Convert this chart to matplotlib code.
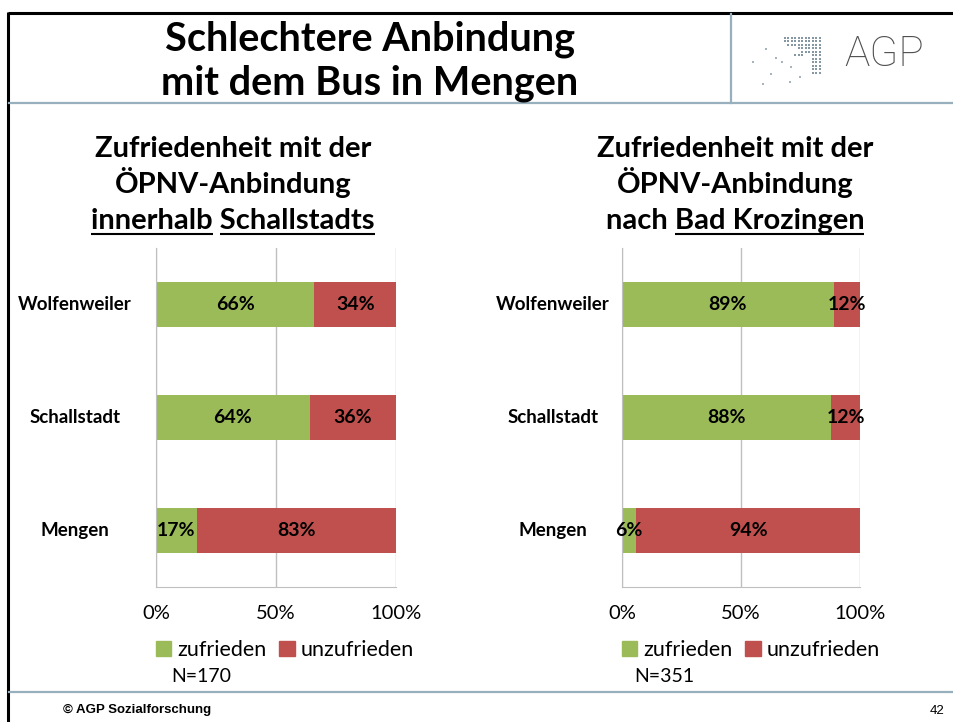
import matplotlib.pyplot as plt
from matplotlib import transforms
from matplotlib.patches import Patch

W, H = 954, 722

GREEN = '#9BBB59'
RED = '#C0504D'
GRID = '#BFBFBF'
RULE = '#98AFBE'

orte = ['Wolfenweiler', 'Schallstadt', 'Mengen']
innerhalb_zufrieden = [66, 64, 17]
innerhalb_unzufrieden = [34, 36, 83]
krozingen_zufrieden = [89, 88, 6]
krozingen_unzufrieden = [12, 12, 94]
x_ticks = [0, 50, 100]
x_tick_labels = ['0%', '50%', '100%']
legend_labels = ['zufrieden', 'unzufrieden']

plt.rcParams['font.family'] = ['Lato', 'DejaVu Sans']

fig = plt.figure(figsize=(W / 100, H / 100), dpi=100)
renderer = fig.canvas.get_renderer()

# full-page overlay in pixel units for the slide frame, titles and logo
page = fig.add_axes([0, 0, 1, 1])
page.set_xlim(0, W)
page.set_ylim(H, 0)
page.axis('off')

page.plot([8, W], [13, 13], color='black', lw=2.2, solid_capstyle='butt')
page.plot([8, 8], [12, H], color='black', lw=2.2, solid_capstyle='butt')
page.plot([9, W], [103, 103], color=RULE, lw=1.6)
page.plot([731, 731], [14, 103], color=RULE, lw=1.6)
page.plot([9, W], [692, 692], color=RULE, lw=1.6)


def text_width(s, **kw):
    t = page.text(0, 0, s, **kw)
    w = t.get_window_extent(renderer).width
    t.remove()
    return w


def title_line(cx, y, line, underlined=(), **kw):
    page.text(cx, y, line, ha='center', va='baseline', **kw)
    left = cx - text_width(line, **kw) / 2
    for word in underlined:
        start = line.index(word)
        end = start + len(word)
        x1 = left + text_width(line[:end], **kw)
        x0 = x1 - text_width(word, **kw)
        page.plot([x0, x1], [y + 5, y + 5], color='black', lw=1.5,
                  solid_capstyle='butt')


# main heading
for y, line in [(51, 'Schlechtere Anbindung'), (95, 'mit dem Bus in Mengen')]:
    page.text(370, y, line, ha='center', va='baseline', fontsize=28.5,
              fontweight='bold')

# logo
page.text(884, 66, 'AGP', ha='center', va='baseline', fontsize=30.5,
          fontweight='light', color='#4F4F4F', family=['Roboto', 'DejaVu Sans'])
logo_rows = [
    '###########',
    '###########',
    '.##########',
    '....#######',
    '.....######',
    '...###..###',
    '........###',
    '........###',
    '........###',
    '........###',
    '........###',
]
gx, gy = [], []
for r, row in enumerate(logo_rows):
    for c, ch in enumerate(row):
        if ch == '#':
            gx.append(785 + c * 3.5)
            gy.append(37.5 + r * 3.5)
page.scatter(gx, gy, s=4, marker='s', color='#8497A2', lw=0)
loose_x = [766, 753, 776, 782, 791, 771, 800, 790, 763]
loose_y = [49, 62, 58, 62, 67, 74, 77, 82, 84]
page.scatter(loose_x, loose_y, s=4, marker='s', color='#A7B4BC', lw=0)

# footer
page.text(63, 710, '\u00a9 AGP Sozialforschung', ha='left', va='center',
          fontsize=9.5, fontweight='bold', family=['Liberation Sans', 'DejaVu Sans'])
page.text(944, 711, '42', ha='right', va='center', fontsize=9.5,
          family=['Liberation Sans', 'DejaVu Sans'])

sub_kw = dict(fontsize=21, fontweight='bold')
title_line(233, 157, 'Zufriedenheit mit der', **sub_kw)
title_line(233, 193, 'ÖPNV-Anbindung', **sub_kw)
title_line(233, 229, 'innerhalb Schallstadts',
           underlined=['innerhalb', 'Schallstadts'], **sub_kw)
title_line(735, 157, 'Zufriedenheit mit der', **sub_kw)
title_line(735, 193, 'ÖPNV-Anbindung', **sub_kw)
title_line(735, 229, 'nach Bad Krozingen', underlined=['Bad Krozingen'], **sub_kw)


def panel(x0, x1, zufrieden, unzufrieden, label_cx, legend_cx, n_text, n_cx):
    ax = fig.add_axes([x0 / W, 1 - 587 / H, (x1 - x0) / W, (587 - 248) / H])
    ypos = list(range(len(orte)))
    b1 = ax.barh(ypos, zufrieden, height=0.4, color=GREEN)
    b2 = ax.barh(ypos, unzufrieden, left=zufrieden, height=0.4, color=RED)
    ax.bar_label(b1, labels=[f'{v}%' for v in zufrieden], label_type='center',
                 fontsize=14, fontweight='bold')
    ax.bar_label(b2, labels=[f'{v}%' for v in unzufrieden], label_type='center',
                 fontsize=14, fontweight='bold')
    ax.set_xlim(0, 100)
    ax.set_ylim(len(orte) - 0.5, -0.5)
    ax.set_xticks(x_ticks, x_tick_labels)
    ax.set_yticks([])
    ax.grid(axis='x', color=GRID, lw=1)
    ax.set_axisbelow(True)
    ax.spines[['top', 'right']].set_visible(False)
    ax.spines[['left', 'bottom']].set_color(GRID)
    ax.tick_params(axis='x', length=0, pad=13, labelsize=14.5)
    ax.patch.set_alpha(0)

    trans = transforms.blended_transform_factory(fig.transFigure, ax.transData)
    for i, ort in enumerate(orte):
        ax.text(label_cx / W, i, ort, transform=trans, ha='center',
                va='center', fontsize=13.5, fontweight='bold')

    fig.legend(handles=[Patch(color=GREEN), Patch(color=RED)],
               labels=legend_labels, loc='center',
               bbox_to_anchor=(legend_cx / W, 1 - 650 / H), ncol=2,
               frameon=False, fontsize=15.5, handlelength=0.7, handleheight=0.7,
               handletextpad=0.3, columnspacing=0.6, borderpad=0)
    page.text(n_cx, 677, n_text, ha='center', va='center', fontsize=14)


panel(156, 396, innerhalb_zufrieden, innerhalb_unzufrieden, 75, 285, 'N=170', 201)
panel(622, 860, krozingen_zufrieden, krozingen_unzufrieden, 553, 751, 'N=351', 664)

fig.savefig('out.png', dpi=100)
